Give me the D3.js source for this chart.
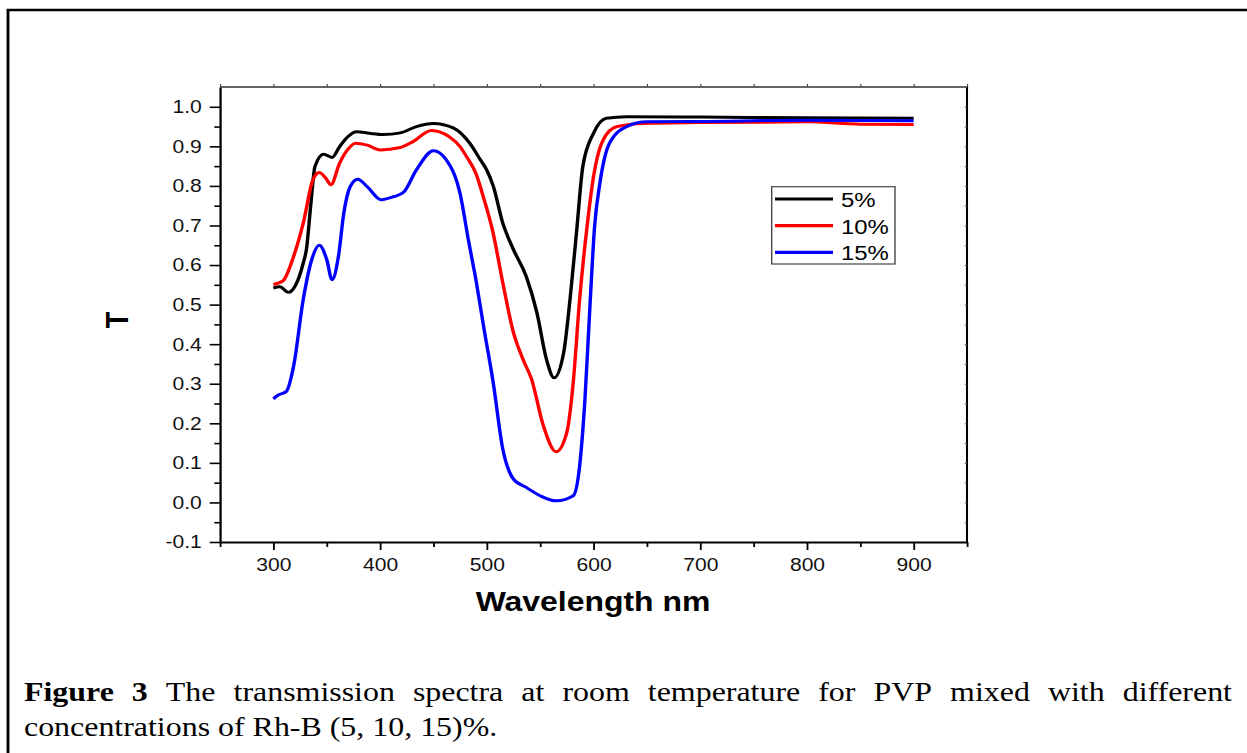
<!DOCTYPE html>
<html>
<head>
<meta charset="utf-8">
<script src="https://cdn.jsdelivr.net/npm/d3@7"></script>
<style>
  html, body { margin: 0; padding: 0; background: #fff; }
  #chart { width: 1247px; height: 753px; }
  svg { display: block; }
</style>
</head>
<body>
<div id="chart"></div>
<script>
// wavelength (nm) and transmission
const wl5 = [300, 306, 314, 321, 328, 331, 335, 339, 347, 355, 362, 370, 378, 390, 403, 419, 434, 450, 469, 484, 494, 500, 506, 515, 525, 537, 547, 556, 563, 572, 578, 584, 590, 600, 612, 631, 700, 800, 900];
const t5  = [0.542, 0.545, 0.531, 0.55, 0.605, 0.64, 0.75, 0.849, 0.88, 0.872, 0.899, 0.925, 0.937, 0.933, 0.930, 0.934, 0.95, 0.958, 0.946, 0.908, 0.866, 0.84, 0.80, 0.706, 0.639, 0.571, 0.479, 0.361, 0.315, 0.378, 0.513, 0.68, 0.849, 0.933, 0.971, 0.975, 0.974, 0.972, 0.971];

const wl10 = [300, 309, 319, 328, 337, 343, 349, 354, 362, 370, 377, 388, 400, 419, 431, 448, 465, 475, 481, 490, 497, 506, 515, 525, 534, 542, 553, 565, 575, 581, 587, 594, 600, 609, 622, 647, 700, 800, 850, 900];
const t10  = [0.551, 0.56, 0.622, 0.706, 0.815, 0.834, 0.82, 0.803, 0.857, 0.893, 0.908, 0.903, 0.891, 0.897, 0.912, 0.94, 0.924, 0.899, 0.874, 0.83, 0.77, 0.68, 0.555, 0.429, 0.361, 0.311, 0.194, 0.128, 0.177, 0.303, 0.513, 0.698, 0.823, 0.916, 0.95, 0.958, 0.96, 0.962, 0.956, 0.955];

const wl15 = [300, 305, 312, 319, 328, 336, 343, 350, 355, 361, 366, 372, 379, 388, 401, 413, 422, 434, 450, 462, 475, 483, 490, 497, 506, 515, 525, 537, 550, 565, 581, 587, 592, 597, 601, 606, 615, 631, 650, 700, 800, 900];
const t15  = [0.262, 0.272, 0.28, 0.345, 0.513, 0.614, 0.65, 0.614, 0.563, 0.622, 0.731, 0.798, 0.817, 0.798, 0.765, 0.773, 0.784, 0.84, 0.889, 0.866, 0.78, 0.66, 0.56, 0.445, 0.303, 0.135, 0.059, 0.038, 0.017, 0.004, 0.017, 0.092, 0.261, 0.513, 0.697, 0.807, 0.908, 0.95, 0.962, 0.963, 0.966, 0.965];

const seriesNames = ["5%", "10%", "15%"];
const seriesColors = ["#000000", "#ff0000", "#0000ff"];

const xTicks = [300, 400, 500, 600, 700, 800, 900];
const yTicks = [-0.1, 0.0, 0.1, 0.2, 0.3, 0.4, 0.5, 0.6, 0.7, 0.8, 0.9, 1.0];

const captionLine1 = [["Figure", true], ["3", true], ["The"], ["transmission"], ["spectra"], ["at"], ["room"], ["temperature"], ["for"], ["PVP"], ["mixed"], ["with"], ["different"]];
const captionLine2 = "concentrations of Rh-B (5, 10, 15)%.";

function draw() {
  // the source picture is stretched sideways, so draw in a narrower box and stretch it
  const sx = 1.14;
  const W = 1247, H = 753;
  const vw = W / sx;

  const svg = d3.select("#chart").append("svg")
    .attr("width", W).attr("height", H)
    .attr("viewBox", `0 0 ${vw} ${H}`)
    .attr("preserveAspectRatio", "none");

  const sans = "'Liberation Sans', Arial, sans-serif";
  const serif = "'Liberation Serif', 'Times New Roman', serif";

  // page frame (top and left only)
  svg.append("path")
    .attr("d", `M${8 / sx},${H} V10 H${vw}`)
    .attr("fill", "none").attr("stroke", "#000").attr("stroke-width", 2.5);

  const left = 220 / sx, right = 967 / sx, top = 87, bottom = 542;

  const x = d3.scaleLinear().domain([250, 950]).range([left, right]);
  const y = d3.scaleLinear().domain([-0.1, 1.05]).range([bottom, top]);

  const fmt = d => d3.format(".1f")(d).replace("\u2212", "-");

  // top border + small ticks
  svg.append("line")
    .attr("x1", left).attr("x2", right).attr("y1", top).attr("y2", top)
    .attr("stroke", "#333").attr("stroke-width", 1.3);
  svg.append("g")
    .attr("transform", `translate(0,${top})`)
    .call(d3.axisTop(x).tickValues(d3.range(250, 951, 50)).tickSize(3).tickFormat(""))
    .call(g => g.select(".domain").remove())
    .selectAll("line").attr("stroke", "#444");

  // right border + small inner ticks
  svg.append("line")
    .attr("x1", right).attr("x2", right).attr("y1", top).attr("y2", bottom)
    .attr("stroke", "#000").attr("stroke-width", 1.8);
  svg.append("g")
    .attr("transform", `translate(${right},0)`)
    .call(d3.axisLeft(y).tickValues(d3.range(-0.1, 1.051, 0.05)).tickSize(2).tickFormat(""))
    .call(g => g.select(".domain").remove())
    .selectAll("line").attr("stroke", "#555");

  // bottom axis
  const xMinor = d3.range(250, 951, 100);
  svg.append("g")
    .attr("transform", `translate(0,${bottom})`)
    .call(d3.axisBottom(x).tickValues(xMinor).tickSize(5).tickFormat(""))
    .call(g => g.select(".domain").remove())
    .selectAll("line").attr("stroke-width", 1.6);

  const gx = svg.append("g")
    .attr("transform", `translate(0,${bottom})`)
    .call(d3.axisBottom(x).tickValues(xTicks).tickSize(8).tickPadding(8).tickSizeOuter(0));
  gx.select(".domain").attr("stroke-width", 2);
  gx.selectAll("line").attr("stroke-width", 1.6);
  gx.selectAll("text").style("font-family", sans).style("font-size", "18.5px").attr("fill", "#111");

  // left axis
  const yMinor = d3.range(-0.05, 1.05, 0.1);
  svg.append("g")
    .attr("transform", `translate(${left},0)`)
    .call(d3.axisLeft(y).tickValues(yMinor).tickSize(5).tickFormat(""))
    .call(g => g.select(".domain").remove())
    .selectAll("line").attr("stroke-width", 1.6);

  const gy = svg.append("g")
    .attr("transform", `translate(${left},0)`)
    .call(d3.axisLeft(y).tickValues(yTicks).tickSize(9).tickPadding(7).tickSizeOuter(0).tickFormat(fmt));
  gy.select(".domain").attr("stroke-width", 2);
  gy.selectAll("line").attr("stroke-width", 1.6);
  gy.selectAll("text").style("font-family", sans).style("font-size", "18.5px").attr("fill", "#111");

  // curves
  const series = [
    { name: seriesNames[0], color: seriesColors[0], pts: wl5.map((w, i) => [w, t5[i]]) },
    { name: seriesNames[1], color: seriesColors[1], pts: wl10.map((w, i) => [w, t10[i]]) },
    { name: seriesNames[2], color: seriesColors[2], pts: wl15.map((w, i) => [w, t15[i]]) }
  ];

  const line = d3.line()
    .x(d => x(d[0]))
    .y(d => y(d[1]))
    .curve(d3.curveMonotoneX);

  svg.append("g").selectAll("path")
    .data(series)
    .join("path")
    .attr("d", d => line(d.pts))
    .attr("fill", "none")
    .attr("stroke", d => d.color)
    .attr("stroke-width", 3)
    .attr("stroke-linejoin", "round");

  // legend
  const lg = svg.append("g");
  lg.append("rect")
    .attr("x", 771.7 / sx).attr("y", 186.7)
    .attr("width", (895 - 771.7) / sx).attr("height", 264 - 186.7)
    .attr("fill", "#fff").attr("stroke", "#444").attr("stroke-width", 1.2);
  series.forEach((s, i) => {
    const ly = 199 + i * 26.7;
    lg.append("line")
      .attr("x1", 775 / sx).attr("x2", 833 / sx).attr("y1", ly).attr("y2", ly)
      .attr("stroke", s.color).attr("stroke-width", 3.2);
    lg.append("text")
      .attr("x", 841 / sx).attr("y", ly + 8)
      .style("font-family", sans).style("font-size", "21px")
      .text(s.name);
  });

  // axis titles
  svg.append("text")
    .attr("x", 593 / sx).attr("y", 611)
    .attr("text-anchor", "middle")
    .style("font-family", sans).style("font-size", "28px").style("font-weight", "bold")
    .text("Wavelength nm");

  svg.append("text")
    .attr("transform", `translate(${128 / sx},320) rotate(-90)`)
    .attr("text-anchor", "middle")
    .style("font-family", sans).style("font-size", "27px").style("font-weight", "bold")
    .text("T");

  // caption, first line justified
  const capLeft = 24 / sx, capRight = 1232 / sx;
  const cap = svg.append("g")
    .style("font-family", serif).style("font-size", "28px").attr("fill", "#000");
  const words = captionLine1.map(([t, b]) =>
    cap.append("text").attr("y", 701).style("font-weight", b ? "bold" : "normal").text(t));
  const widths = words.map(w => w.node().getComputedTextLength());
  const gap = (capRight - capLeft - d3.sum(widths)) / (words.length - 1);
  let cx = capLeft;
  words.forEach((w, i) => { w.attr("x", cx); cx += widths[i] + gap; });

  cap.append("text").attr("x", capLeft).attr("y", 736).text(captionLine2);
}

draw();
</script>
</body>
</html>
